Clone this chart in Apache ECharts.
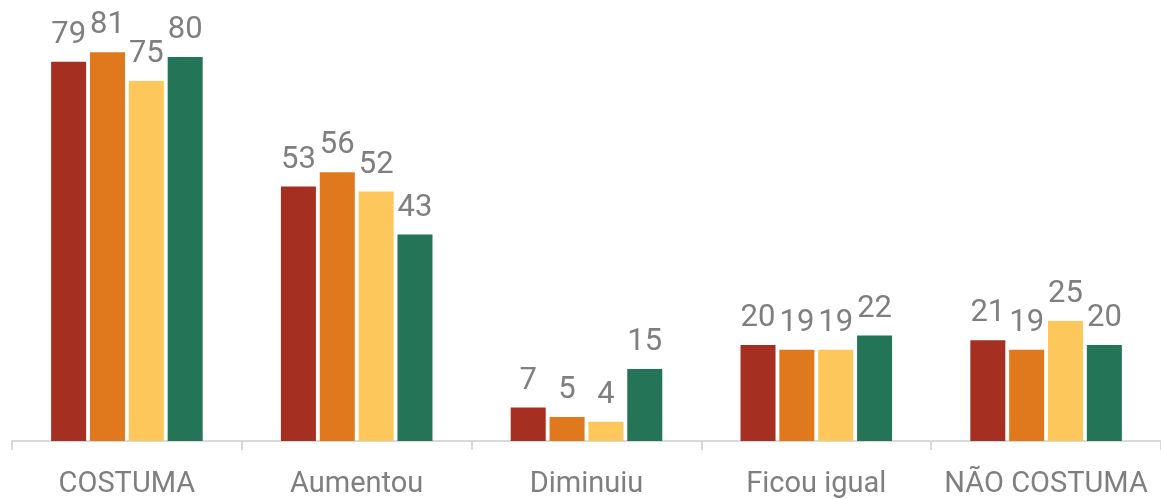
<!DOCTYPE html>
<html><head><meta charset="utf-8">
<script src="https://cdn.jsdelivr.net/npm/echarts@6/dist/echarts.min.js"></script>
<style>html,body{margin:0;padding:0;background:#fff}#c{width:1161px;height:499px}</style>
</head><body><div id="c"></div>
<script>
const categories = ['COSTUMA', 'Aumentou', 'Diminuiu', 'Ficou igual', 'NÃO COSTUMA'];
const seriesA = [79, 53, 7, 20, 21];
const seriesB = [81, 56, 5, 19, 19];
const seriesC = [75, 52, 4, 19, 25];
const seriesD = [80, 43, 15, 22, 20];
const colors = ['#A52F20', '#E0781E', '#FEC75C', '#247458'];
const font = 'Roboto, "Liberation Sans", sans-serif';
const mk = (data, i) => ({
  type: 'bar', data, barWidth: 35, barGap: '11%',
  itemStyle: { color: colors[i] },
  label: { show: true, position: 'top', distance: 11, color: '#7f7f7f', fontSize: 31, fontFamily: font },
  animation: false
});
const chart = echarts.init(document.getElementById('c'));
chart.setOption({
  animation: false,
  grid: { left: 12, width: 1155, top: 9, bottom: 58 },
  xAxis: {
    type: 'category', data: categories,
    axisLine: { lineStyle: { color: '#d9d9d9', width: 2 } },
    axisTick: { show: true, interval: 0, length: 9, lineStyle: { color: '#d9d9d9', width: 2 } },
    axisLabel: { interval: 0, color: '#7f7f7f', fontSize: 29, fontFamily: font, margin: 29 }
  },
  yAxis: { type: 'value', min: 0, max: 90, show: false, splitLine: { show: false } },
  series: [mk(seriesA, 0), mk(seriesB, 1), mk(seriesC, 2), mk(seriesD, 3)]
});
</script></body></html>
